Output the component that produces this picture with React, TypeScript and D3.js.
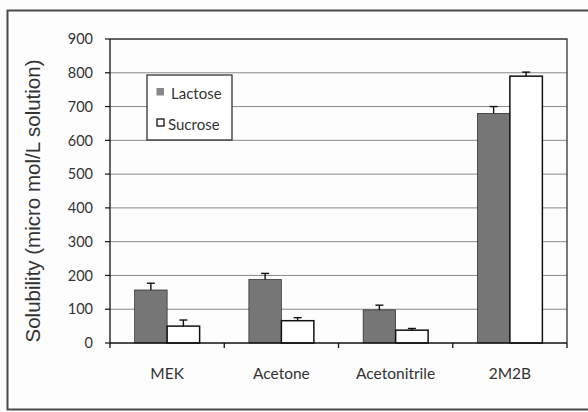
import React from "react";
import * as d3 from "d3";

// Solubility of two sugars in four solvents (micro mol/L solution)
const categories = ["MEK", "Acetone", "Acetonitrile", "2M2B"];
const seriesNames = ["Lactose", "Sucrose"];
const lactose = [157, 188, 98, 680];
const lactoseErr = [20, 18, 14, 20];
const sucrose = [50, 66, 38, 790];
const sucroseErr = [18, 9, 5, 12];
const yTicks = [0, 100, 200, 300, 400, 500, 600, 700, 800, 900];

const W = 588;
const H = 412;
const plot = { left: 110, right: 567, top: 39, bottom: 343 };
const fills = ["#767676", "#ffffff"];
const tickFont = "Lato, 'Open Sans', sans-serif";

export default function App() {
  const x = d3.scaleBand<string>().domain(categories).range([plot.left, plot.right]).padding(0);
  const y = d3.scaleLinear().domain([0, 900]).range([plot.bottom, plot.top]);
  const barW = 32.5;
  const sub = d3.scaleBand<string>().domain(seriesNames).range([-barW, barW]).padding(0);

  const values = [lactose, sucrose];
  const errs = [lactoseErr, sucroseErr];
  const boundaries = categories.map((c) => x(c)!).concat([plot.right]);

  return (
    <svg
      width={W}
      height={H}
      style={{ position: "absolute", left: 0, top: 0, display: "block", background: "#fdfdfd" }}
    >
      {/* outer frame */}
      <rect x={0} y={0} width={W} height={H} fill="#fdfdfd" />
      <path d={`M${W + 2},10.5 H7.5 V409.5 H${W + 2}`} fill="none" stroke="#4a4a4a" strokeWidth={2} />

      {/* gridlines */}
      {yTicks.slice(1, -1).map((t) => (
        <line key={t} x1={plot.left} x2={plot.right} y1={y(t)} y2={y(t)} stroke="#8a8a8a" strokeWidth={1} />
      ))}
      {/* plot area border */}
      <path
        d={`M${plot.left},${plot.top} H${plot.right} V${plot.bottom}`}
        fill="none"
        stroke="#333"
        strokeWidth={1.3}
      />

      {/* bars */}
      {seriesNames.map((s, si) =>
        categories.map((c, ci) => {
          const cx = x(c)! + x.bandwidth() / 2;
          const x0 = cx + sub(s)!;
          const v = values[si][ci];
          return (
            <rect
              key={s + c}
              x={x0}
              y={y(v)}
              width={sub.bandwidth()}
              height={plot.bottom - y(v)}
              fill={fills[si]}
              stroke="#111"
              strokeWidth={si === 1 ? 1.5 : 0.6}
            />
          );
        })
      )}

      {/* error bars */}
      {seriesNames.map((s, si) =>
        categories.map((c, ci) => {
          const cx = x(c)! + x.bandwidth() / 2 + sub(s)! + sub.bandwidth() / 2;
          const v = values[si][ci];
          const e = errs[si][ci];
          return (
            <g key={"e" + s + c} stroke="#111" strokeWidth={1.4}>
              <line x1={cx} x2={cx} y1={y(v)} y2={y(v + e)} />
              <line x1={cx - 4} x2={cx + 4} y1={y(v + e)} y2={y(v + e)} />
            </g>
          );
        })
      )}

      {/* y axis */}
      <line x1={plot.left} x2={plot.left} y1={plot.top} y2={plot.bottom} stroke="#111" strokeWidth={1.3} />
      {yTicks.map((t) => (
        <g key={"yt" + t}>
          <line x1={plot.left - 5} x2={plot.left} y1={y(t)} y2={y(t)} stroke="#111" strokeWidth={1.2} />
          <text
            x={93}
            y={y(t)}
            dy="0.36em"
            textAnchor="end"
            fontFamily={tickFont}
            fontSize={14.5}
            fill="#333"
          >
            {t}
          </text>
        </g>
      ))}

      {/* x axis */}
      <line x1={plot.left} x2={plot.right} y1={plot.bottom} y2={plot.bottom} stroke="#111" strokeWidth={1.5} />
      {boundaries.map((bx, i) => (
        <line key={"xt" + i} x1={bx} x2={bx} y1={plot.bottom} y2={plot.bottom + 5} stroke="#111" strokeWidth={1.3} />
      ))}
      {categories.map((c) => (
        <text
          key={"xl" + c}
          x={x(c)! + x.bandwidth() / 2}
          y={379}
          textAnchor="middle"
          fontFamily={tickFont}
          fontSize={15.5}
          fill="#333"
        >
          {c}
        </text>
      ))}

      {/* y axis title */}
      <text
        transform={`translate(40, 201) rotate(-90)`}
        textAnchor="middle"
        fontFamily="'Liberation Sans', Arial, sans-serif"
        fontSize={20.5}
        fill="#333"
      >
        Solubility (micro mol/L solution)
      </text>

      {/* legend */}
      <rect x={147} y={75} width={85} height={65} fill="#fff" stroke="#333" strokeWidth={1.3} />
      <rect x={156.5} y={88} width={7.5} height={7.5} fill="#888" />
      <text x={171} y={98.5} fontFamily={tickFont} fontSize={15} fill="#333">
        {seriesNames[0]}
      </text>
      <rect x={157} y={119} width={7} height={7} fill="#fff" stroke="#111" strokeWidth={1.3} />
      <text x={168} y={130} fontFamily={tickFont} fontSize={15} fill="#333">
        {seriesNames[1]}
      </text>
    </svg>
  );
}
